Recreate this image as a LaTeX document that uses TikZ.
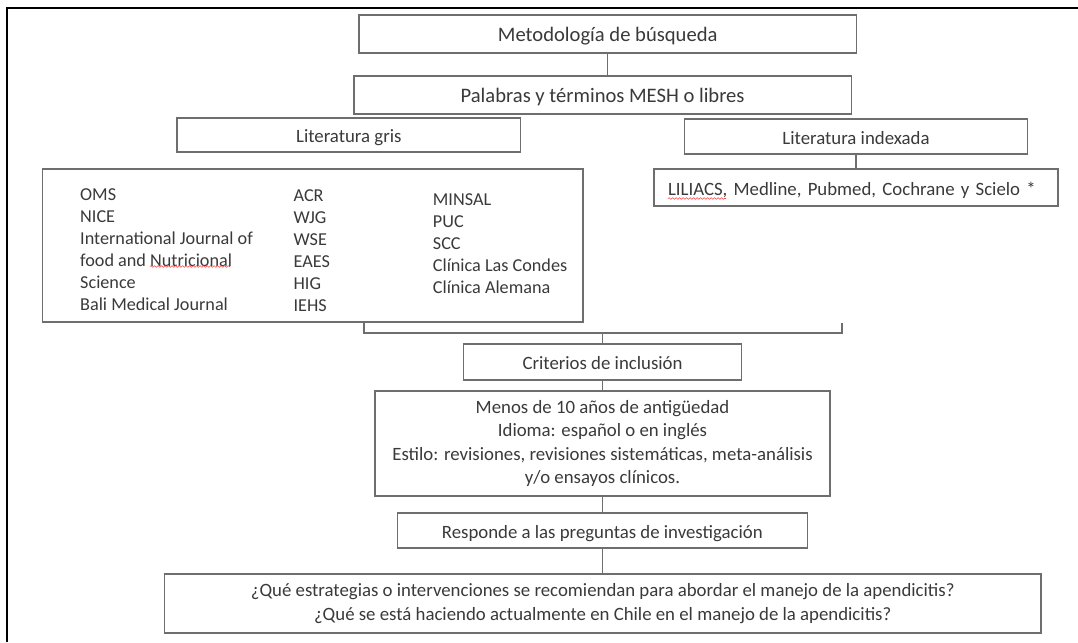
\documentclass[tikz,border=0pt]{standalone}
\usepackage{fontspec}
\setmainfont{Carlito}
\usetikzlibrary{decorations.pathmorphing}
\definecolor{boxgray}{HTML}{6E6E6E}
\definecolor{txtgray}{HTML}{3A3A3A}
\begin{document}
\begin{tikzpicture}[x=1pt,y=-1pt,
  box/.style={draw=boxgray, line width=1.2pt, rectangle, inner sep=0pt, text=txtgray,
    font=\fontsize{18.8}{23.3}\selectfont},
  one/.style={box, text height=17pt, text depth=2pt},
  big/.style={font=\fontsize{20.6}{24}\selectfont},
  lstitem/.style={anchor=base west, inner sep=0pt, text=txtgray, font=\fontsize{18.2}{22}\selectfont},
  conn/.style={draw=boxgray, line width=1.2pt},
  squig/.style={draw=red!75, line width=0.6pt, decorate, decoration={snake, amplitude=0.8pt, segment length=3.5pt}}
]
\useasboundingbox (0,0) rectangle (1078,642);
\fill[white] (0,0) rectangle (1078,642);
% outer frame
\draw[line width=2.2pt, black] (7,642) -- (7,8) -- (1078,8);

% boxes
\node[one, big, minimum width=497.5pt, minimum height=38pt] (meta) at (607.75,34) {Metodología de búsqueda};
\node[one, big, minimum width=497.3pt, minimum height=38pt] (pal) at (602.6,95) {Palabras y términos MESH o libres};
\node[one, minimum width=343.5pt, minimum height=34pt] (gris) at (348.8,135) {Literatura gris};
\node[one, minimum width=343pt, minimum height=35pt] (idx) at (856,136.5) {Literatura indexada};
\node[one, minimum width=404pt, minimum height=37pt, text width=376pt, align=left] (lil) at (856,187.5) {LILIACS, Medline, Pubmed, Cochrane y Scielo *};
\node[box, minimum width=540.3pt, minimum height=153pt] (lst) at (312.8,245.5) {};
\node[one, minimum width=277.5pt, minimum height=36pt] (crit) at (602.5,362) {Criterios de inclusión};
\node[box, minimum width=455pt, minimum height=105pt, align=center] (menos) at (602.5,443.5)
  {Menos de 10 años de antigüedad\\Idioma: español o en inglés\\Estilo: revisiones, revisiones sistemáticas, meta-análisis\\y/o ensayos clínicos.};
\node[one, minimum width=410pt, minimum height=35pt] (resp) at (602.3,530.5) {Responde a las preguntas de investigación};
\node[box, minimum width=876.6pt, minimum height=59pt, align=center] (preg) at (602.7,603.5)
  {¿Qué estrategias o intervenciones se recomiendan para abordar el manejo de la apendicitis?\\¿Qué se está haciendo actualmente en Chile en el manejo de la apendicitis?};

% list contents
\foreach \t [count=\i from 0] in {OMS, NICE, International Journal of, food and Nutricional, Science, Bali Medical Journal}
  \node[lstitem] (a\i) at (80,{200+22.1*\i}) {\t};
\foreach \t [count=\i from 0] in {ACR, WJG, WSE, EAES, HIG, IEHS}
  \node[lstitem] (b\i) at (293.4,{201.7+22*\i}) {\t};
\foreach \t [count=\i from 0] in {MINSAL, PUC, SCC, Clínica Las Condes, Clínica Alemana}
  \node[lstitem] (c\i) at (432.7,{205+22*\i}) {\t};

% spell-check marks
\draw[squig] (668,198.5) -- (726,198.5);
\draw[squig] (150,266.5) -- (230,266.5);

% connectors
\draw[conn] (meta.south) -- (pal.north -| meta.south);
\draw[conn] (idx.south) -- (lil.north -| idx.south);
\coordinate (brL) at (364,333);
\coordinate (brR) at (842,333);
\draw[conn] (lst.south -| brL) -- (brL) -- (brR) -- (brR |- lst.south);
\draw[conn] (crit.north |- brL) -- (crit.north);
\draw[conn] (crit.south) -- (menos.north);
\draw[conn] (menos.south) -- (resp.north -| menos.south);
\draw[conn] (resp.south) -- (preg.north -| resp.south);
\end{tikzpicture}
\end{document}
